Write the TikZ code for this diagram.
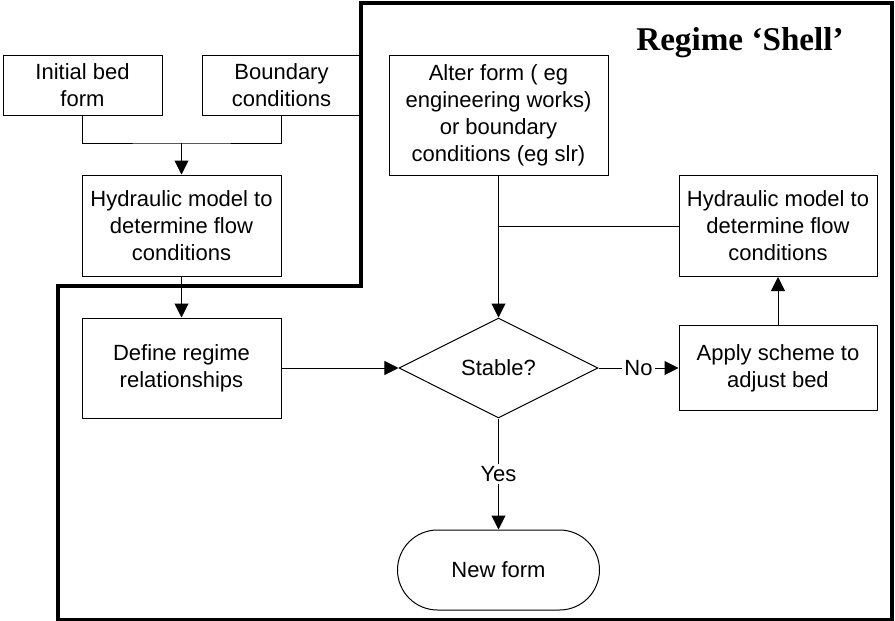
\documentclass[tikz,border=0pt]{standalone}
\usepackage{fontspec}
\setmainfont{Liberation Sans}
\newfontfamily\titlefont{Liberation Serif}
\usetikzlibrary{positioning}
\usetikzlibrary{shapes.geometric}
\usetikzlibrary{arrows.meta}

\tikzset{
  box/.style={draw, line width=0.5pt, rectangle, align=center, inner sep=0pt,
    minimum width=99.5pt, minimum height=50.5pt},
  decision/.style={draw, line width=0.5pt, diamond, inner sep=0pt,
    minimum width=99.5pt, minimum height=50pt},
  terminal/.style={draw, line width=0.5pt, rectangle, rounded corners=20pt,
    inner sep=0pt, minimum width=101pt, minimum height=40pt},
  flow/.style={line width=0.5pt, -{Triangle[length=7pt,width=7pt]}},
  link/.style={line width=0.5pt},
  shell/.style={line width=2pt, line join=miter},
  tag/.style={fill=white, inner sep=1pt},
}

\begin{document}
\begin{tikzpicture}[x=1pt, y=-1pt, font=\fontsize{11}{13.5}\selectfont]
    \useasboundingbox (0,0) rectangle (447.5,310.5);

    % regime shell outline
    \draw[shell] (180.3,1.25) -- (445.75,1.25) -- (445.75,309.75)
        -- (28.75,309.75) -- (28.75,142.75) -- (180.3,142.75) -- cycle;
    \node[font=\titlefont\fontsize{16.6}{20}\selectfont\bfseries] (title) at (370,21.5) {Regime ‘Shell’};

    % inputs
    \node[box, minimum width=79.5pt, minimum height=30pt] (init) at (41.25,42.5) {Initial bed\\form};
    \node[box, minimum width=79.5pt, minimum height=30pt, right=19.5pt of init] (bound) {Boundary\\conditions};
    \node[box] (hyd1) at (90.75,112.75) {Hydraulic model to\\determine flow\\conditions};
    \coordinate (join) at (90.75,71.5);
    \draw[link] (init.south) |- (join) -| (bound.south);
    \draw[flow] (join) -- (hyd1.north);

    % regime loop
    \node[box, minimum height=50pt, below=20.5pt of hyd1] (define) {Define regime\\relationships};
    \node[decision, right=58.5pt of define] (stable) {Stable?};
    \node[box, minimum width=99pt, minimum height=42.5pt, right=40pt of stable] (apply) {Apply scheme to\\adjust bed};
    \node[box, minimum width=99pt, above=24pt of apply] (hyd2) {Hydraulic model to\\determine flow\\conditions};
    \node[box, minimum width=109.5pt, minimum height=60pt, above=71pt of stable] (alter) {Alter form ( eg\\engineering works)\\or boundary\\conditions (eg slr)};
    \node[terminal, below=55.5pt of stable] (newform) {New form};

    \draw[flow] (hyd1) -- (define);
    \draw[flow] (define) -- (stable);
    \draw[flow] (stable) -- node[tag] {No} (apply);
    \draw[flow] (apply) -- (hyd2);
    \draw[link] (hyd2.west) -- (hyd2.west -| alter.south);
    \draw[flow] (alter) -- (stable);
    \draw[flow] (stable) -- node[tag] {Yes} (newform);

\end{tikzpicture}
\end{document}
